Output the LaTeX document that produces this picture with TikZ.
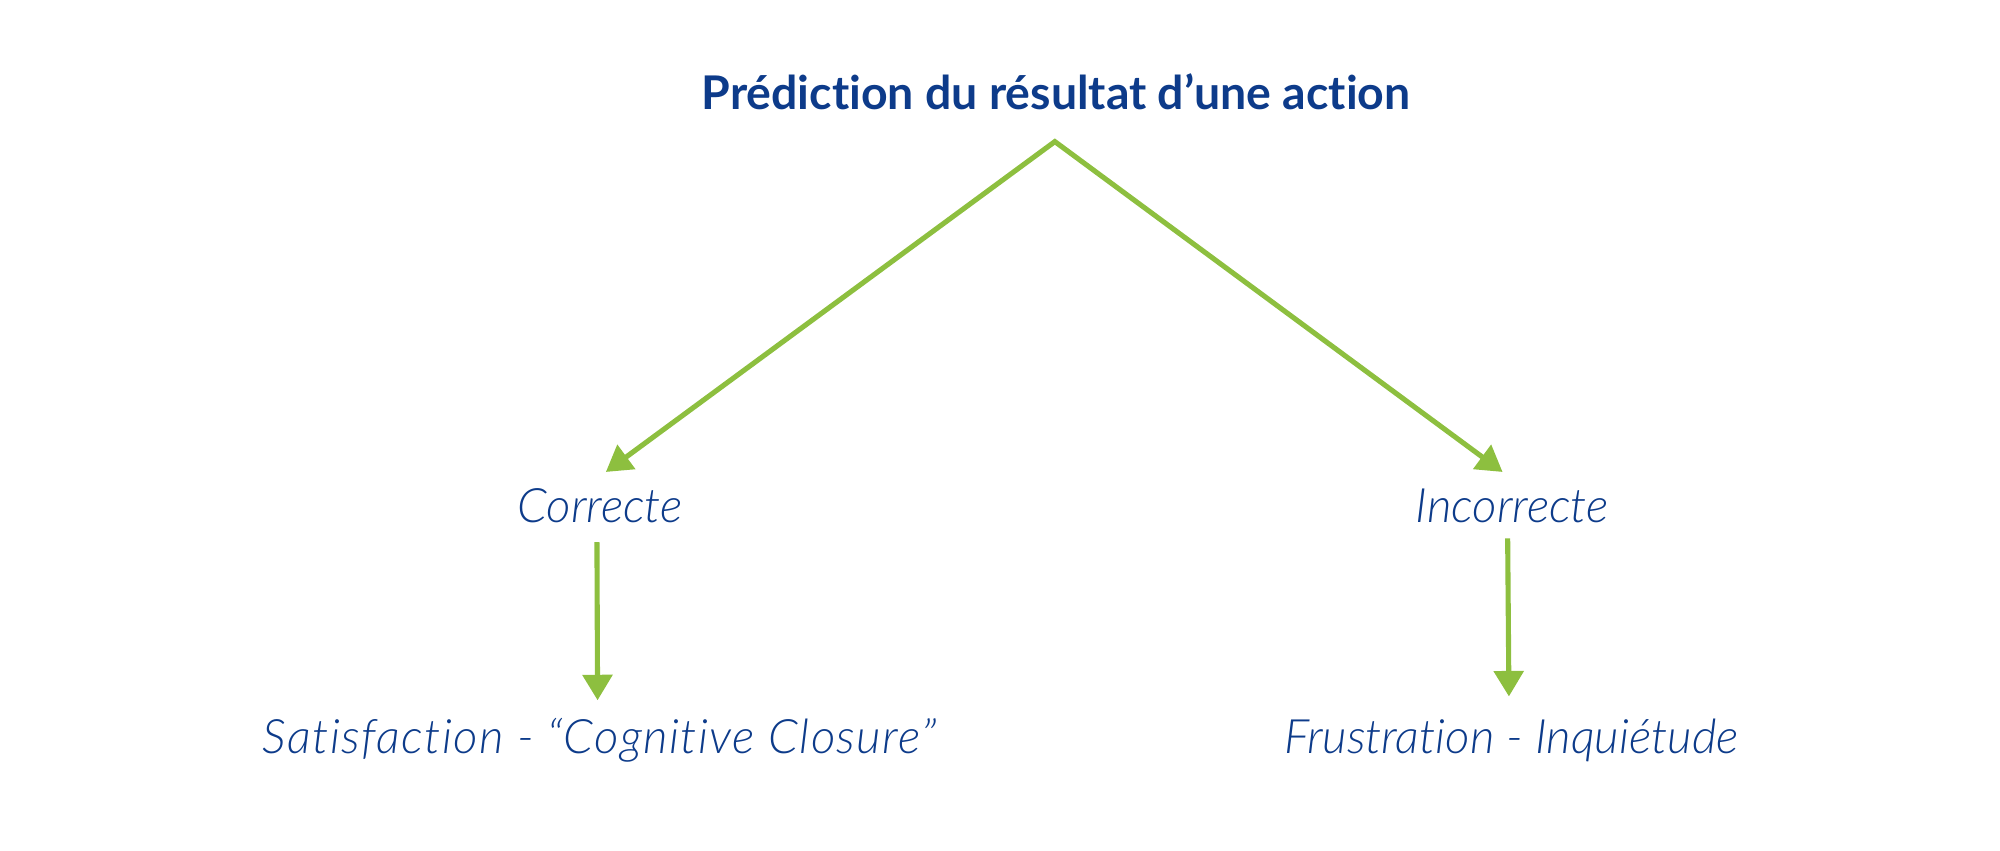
\documentclass[tikz,border=0pt]{standalone}
\usepackage{fontspec}
\setmainfont{Lato}
\newfontfamily\titlefont{Lato}[UprightFont=* Bold,Ligatures=NoCommon,RawFeature=-liga]
\newfontfamily\lightit{Lato}[UprightFont=* Light Italic,Ligatures=NoCommon,RawFeature=-liga]
\newfontfamily\lightitwide{Lato}[UprightFont=* Light Italic,Ligatures=NoCommon,RawFeature=-liga,LetterSpace=3]
\usetikzlibrary{arrows.meta}
\definecolor{navy}{HTML}{0D3B8A}
\definecolor{leaf}{HTML}{8DBF3F}
\begin{document}
\begin{tikzpicture}[x=0.5pt,y=-0.5pt,
  title/.style={text=navy,font=\titlefont\fontsize{18.2}{21}\selectfont,inner sep=0pt,anchor=base},
  label/.style={text=navy,font=\lightit\fontsize{18.6}{22}\selectfont,inner sep=0pt,anchor=base},
  widelabel/.style={label,font=\lightitwide\fontsize{18.6}{22}\selectfont},
  conn/.style={draw=leaf,line width=2pt,-{Triangle[length=10pt,width=11.5pt]}},
  vee/.style={draw=leaf,line width=2pt,line join=miter,{Triangle[length=10pt,width=11.5pt]}-{Triangle[length=10pt,width=11.5pt]}}]
\useasboundingbox (0,0) rectangle (1568,666.4);
\node[title] (t) at (828,86) {Prédiction du résultat d’une action};
\coordinate (apex) at (827,111);
\node[label] (c) at (470.5,410) {Correcte};
\node[label] (i) at (1185.5,410) {Incorrecte};
\node[widelabel] (s) at (470,591) {Satisfaction - “Cognitive Closure”};
\node[label] (f) at (1185,591) {Frustration - Inquiétude};
\coordinate (ctip) at (475,370);
\coordinate (itip) at (1178,370);
\draw[vee] (ctip) -- (apex) -- (itip);
\coordinate (cs) at (468,425);
\coordinate (ce) at (468.5,549);
\coordinate (is) at (1182,422);
\coordinate (ie) at (1183,546);
\draw[conn] (cs) -- (ce);
\draw[conn] (is) -- (ie);
\end{tikzpicture}
\end{document}
